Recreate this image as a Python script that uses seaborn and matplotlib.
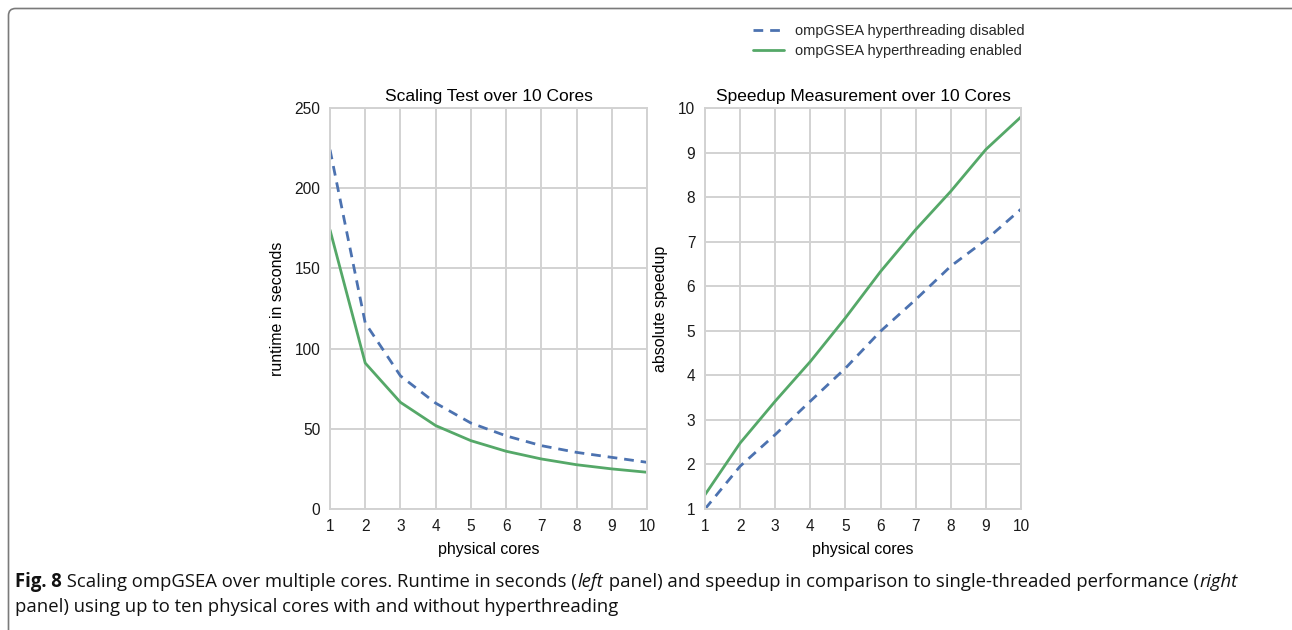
import matplotlib
matplotlib.use("Agg")
import matplotlib.pyplot as plt
import seaborn as sns
import pandas as pd
from matplotlib.patches import FancyBboxPatch
from matplotlib.transforms import IdentityTransform

# ---------------- data ----------------
cores = [1, 2, 3, 4, 5, 6, 7, 8, 9, 10]
runtime_ht_disabled = [224, 116, 83, 66, 53.6, 45.6, 39.5, 35.3, 32.2, 29.1]
runtime_ht_enabled = [174, 91, 66.5, 52, 42.6, 36, 31.2, 27.6, 25, 22.9]
speedup_ht_disabled = [1.0, 1.96, 2.67, 3.42, 4.16, 4.99, 5.70, 6.45, 7.04, 7.73]
speedup_ht_enabled = [1.32, 2.48, 3.42, 4.31, 5.29, 6.33, 7.27, 8.13, 9.07, 9.80]
series_labels = ["ompGSEA hyperthreading disabled", "ompGSEA hyperthreading enabled"]
left_title = "Scaling Test over 10 Cores"
right_title = "Speedup Measurement over 10 Cores"
left_ylabel = "runtime in seconds"
right_ylabel = "absolute speedup"
xlabel = "physical cores"
left_yticks = [0, 50, 100, 150, 200, 250]
right_yticks = [1, 2, 3, 4, 5, 6, 7, 8, 9, 10]
caption_line1 = [("Fig. 8", "bold", "normal"),
                 (" Scaling ompGSEA over multiple cores. Runtime in seconds (", "normal", "normal"),
                 ("left", "normal", "italic"),
                 (" panel) and speedup in comparison to single-threaded performance (", "normal", "normal"),
                 ("right", "normal", "italic")]
caption_line2 = [("panel) using up to ten physical cores with and without hyperthreading", "normal", "normal")]

# ---------------- style ----------------
sns.set_theme(style="whitegrid", rc={
    "grid.color": "#d2d2d2", "grid.linewidth": 1.4,
    "axes.edgecolor": "#d2d2d2", "axes.linewidth": 1.4,
})
plt.rcParams["font.family"] = ["Liberation Sans", "DejaVu Sans"]

W, H = 1292, 630
fig = plt.figure(figsize=(W / 100, H / 100), dpi=100)
fig.patch.set_facecolor("white")

blue = "#4C72B0"
green = "#55A868"
dash = (0, (3.5, 2.5))

ax1 = fig.add_axes([330 / W, 1 - 509 / H, 317 / W, 401 / H])
ax2 = fig.add_axes([705 / W, 1 - 509 / H, 316 / W, 401 / H])

df_rt = pd.DataFrame({"cores": cores, "dis": runtime_ht_disabled, "en": runtime_ht_enabled})
df_sp = pd.DataFrame({"cores": cores, "dis": speedup_ht_disabled, "en": speedup_ht_enabled})

sns.lineplot(data=df_rt, x="cores", y="dis", ax=ax1, color=blue, linestyle=dash, lw=2, label=series_labels[0])
sns.lineplot(data=df_rt, x="cores", y="en", ax=ax1, color=green, lw=2, label=series_labels[1])
sns.lineplot(data=df_sp, x="cores", y="dis", ax=ax2, color=blue, linestyle=dash, lw=2, label=series_labels[0])
sns.lineplot(data=df_sp, x="cores", y="en", ax=ax2, color=green, lw=2, label=series_labels[1])

for ax, title, ylab, yt, ylim in [(ax1, left_title, left_ylabel, left_yticks, (0, 250)),
                                   (ax2, right_title, right_ylabel, right_yticks, (1, 10))]:
    ax.set_xlim(1, 10)
    ax.set_ylim(*ylim)
    ax.set_xticks(cores)
    ax.set_yticks(yt)
    ax.set_title(title, fontsize=12.5, pad=5, color="black")
    ax.set_xlabel(xlabel, fontsize=11.5, labelpad=6, color="black")
    ax.set_ylabel(ylab, fontsize=11.5, labelpad=7, color="black")
    ax.tick_params(axis="both", length=0, pad=7, labelsize=11.2, labelcolor="#1a1a1a")
    ax.get_legend().remove()
    for sp in ax.spines.values():
        sp.set_color("#d2d2d2")

handles = ax1.get_lines()[:2]
fig.legend(handles, series_labels, loc="upper left", bbox_to_anchor=(753 / W, 1 - 24 / H),
           frameon=False, fontsize=10.5, handlelength=2.1, handletextpad=0.8, labelspacing=0.4,
           borderaxespad=0, borderpad=0)

# ---------------- frame ----------------
frame = FancyBboxPatch((8.5, -60), 1500, (H - 8.5) + 60,
                       boxstyle="round,pad=0,rounding_size=7",
                       transform=IdentityTransform(), facecolor="none",
                       edgecolor="#7a7a7a", lw=1.2)
fig.patches.append(frame)
frame.set_figure(fig)

# ---------------- caption ----------------
renderer = fig.canvas.get_renderer()
cap_family = ["Open Sans", "DejaVu Sans"]
cap_size = 13.35


def draw_runs(runs, x_px, y_px):
    x = x_px
    for text, weight, style in runs:
        t = fig.text(x / W, 1 - y_px / H, text, fontsize=cap_size, fontweight=weight,
                     fontstyle=style, family=cap_family, ha="left", va="baseline", color="#111111")
        bb = t.get_window_extent(renderer)
        x = bb.x1 + 0.5


draw_runs(caption_line1, 15, 587)
draw_runs(caption_line2, 15, 612)

fig.savefig("out.png", dpi=100, facecolor="white")
